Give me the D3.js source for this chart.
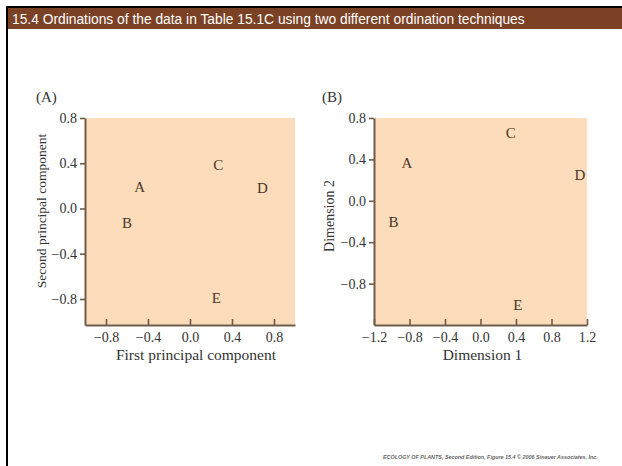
<!DOCTYPE html>
<html>
<head>
<meta charset="utf-8">
<script src="https://cdn.jsdelivr.net/npm/d3@7"></script>
<style>
  body { margin: 0; background: #fff; }
  svg { display: block; }
</style>
</head>
<body>
<div id="chart"></div>
<script>
const sites = ["A", "B", "C", "D", "E"];
// panel A: principal components
const pcaX = [-0.48, -0.60, 0.27, 0.69, 0.25];
const pcaY = [0.19, -0.13, 0.39, 0.185, -0.79];
// panel B: ordination dimensions
const mdsX = [-0.83, -0.98, 0.34, 1.12, 0.42];
const mdsY = [0.37, -0.20, 0.66, 0.25, -1.0];
const ticksA = [-0.8, -0.4, 0.0, 0.4, 0.8];
const ticksBx = [-1.2, -0.8, -0.4, 0.0, 0.4, 0.8, 1.2];
const ticksBy = [-0.8, -0.4, 0.0, 0.4, 0.8];

const w = 622, h = 466;
const serif = "'Liberation Serif', 'DejaVu Serif', serif";
const axisCol = "#6e5c4a";
const fill = "#fcdcba";

const svg = d3.select("#chart").append("svg")
  .attr("width", w).attr("height", h);

// frame + title bar
svg.append("line").attr("x1", 7).attr("x2", 7).attr("y1", 6).attr("y2", h)
  .attr("stroke", "#000").attr("stroke-width", 2);
svg.append("line").attr("x1", 6).attr("x2", w).attr("y1", 7).attr("y2", 7)
  .attr("stroke", "#000").attr("stroke-width", 2);
svg.append("rect").attr("x", 8).attr("y", 8).attr("width", w - 8).attr("height", 21)
  .attr("fill", "#7b4124");
svg.append("text").attr("x", 12).attr("y", 23.5)
  .attr("font-family", "'Liberation Sans', Arial, sans-serif")
  .attr("font-size", 13.8).attr("fill", "#fff")
  .text("15.4  Ordinations of the data in Table 15.1C using two different ordination techniques");

const panel = (opt) => {
  const x = d3.scaleLinear().domain(opt.xDom).range([opt.left, opt.right]);
  const y = d3.scaleLinear().domain(opt.yDom).range([opt.bottom, opt.top]);
  const g = svg.append("g");

  g.append("rect")
    .attr("x", opt.left).attr("y", opt.top)
    .attr("width", opt.right - opt.left).attr("height", opt.bottom - opt.top)
    .attr("fill", fill);

  const xAxis = g.append("g")
    .attr("transform", `translate(0,${opt.bottom})`)
    .call(d3.axisBottom(x).tickValues(opt.xTicks).tickFormat(d3.format(".1f"))
      .tickSizeInner(-6).tickSizeOuter(0).tickPadding(7));
  const yAxis = g.append("g")
    .attr("transform", `translate(${opt.left},0)`)
    .call(d3.axisLeft(y).tickValues(opt.yTicks).tickFormat(d3.format(".1f"))
      .tickSize(5).tickSizeOuter(0).tickPadding(3));

  [xAxis, yAxis].forEach(a => {
    a.select(".domain").attr("stroke", axisCol).attr("stroke-width", 2);
    a.selectAll(".tick line").attr("stroke", axisCol).attr("stroke-width", 1.6);
    a.selectAll(".tick text").attr("fill", "#333")
      .attr("font-family", serif).attr("font-size", 14);
  });

  g.selectAll(".site")
    .data(opt.xs.map((v, i) => ({ name: sites[i], x: v, y: opt.ys[i] })))
    .enter().append("text")
    .attr("class", "site")
    .attr("x", d => x(d.x)).attr("y", d => y(d.y))
    .attr("dy", "0.35em")
    .attr("text-anchor", "middle")
    .attr("font-family", serif).attr("font-size", 15)
    .attr("fill", "#4a3726")
    .text(d => d.name);

  g.append("text")
    .attr("x", (opt.left + opt.right) / 2 + opt.xLabOff).attr("y", 360)
    .attr("text-anchor", "middle")
    .attr("font-family", serif).attr("font-size", 15.5).attr("fill", "#333")
    .text(opt.xLabel);
  g.append("text")
    .attr("transform", `translate(${opt.yLabX},${opt.yLabY}) rotate(-90)`)
    .attr("text-anchor", "middle")
    .attr("font-family", serif).attr("font-size", opt.yLabSize).attr("fill", "#333")
    .text(opt.yLabel);
  g.append("text")
    .attr("x", opt.tagX).attr("y", 102)
    .attr("font-family", serif).attr("font-size", 15).attr("fill", "#333")
    .text(opt.tag);
};

panel({
  xs: pcaX, ys: pcaY,
  xDom: [-1, 1], yDom: [-1.03, 0.8],
  left: 85, right: 295, top: 118, bottom: 325,
  xTicks: ticksA, yTicks: ticksA,
  xLabel: "First principal component", xLabOff: 6,
  yLabel: "Second principal component", yLabX: 46, yLabY: 211, yLabSize: 13.5,
  tag: "(A)", tagX: 36
});

panel({
  xs: mdsX, ys: mdsY,
  xDom: [-1.2, 1.2], yDom: [-1.2, 0.8],
  left: 374, right: 587, top: 118, bottom: 325,
  xTicks: ticksBx, yTicks: ticksBy,
  xLabel: "Dimension 1", xLabOff: 2,
  yLabel: "Dimension 2", yLabX: 334, yLabY: 216, yLabSize: 14,
  tag: "(B)", tagX: 322
});

// credit line
svg.append("text").attr("x", 383).attr("y", 459)
  .attr("font-family", "'Liberation Sans', Arial, sans-serif")
  .attr("font-size", 5.4).attr("font-weight", "bold").attr("font-style", "italic")
  .attr("fill", "#666")
  .text("ECOLOGY OF PLANTS, Second Edition, Figure 15.4  \u00a9 2006 Sinauer Associates, Inc.");
</script>
</body>
</html>
